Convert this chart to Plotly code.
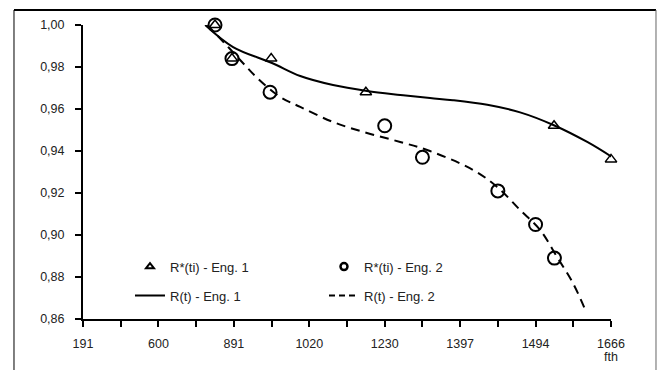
import plotly.graph_objects as go

# ---- data (x is the tick index of the equally spaced category-like axis) ----
tick_index = list(range(15))
tick_labels = ["191", "600", "891", "1020", "1230", "1397", "1494", "1666"]

eng1_x = [3.5, 3.95, 4.99, 7.5, 12.49, 14.0]
eng1_y = [1.000, 0.984, 0.984, 0.968, 0.952, 0.936]

eng2_x = [3.5, 3.95, 4.96, 8.0, 9.0, 11.0, 12.0, 12.5]
eng2_y = [1.000, 0.984, 0.968, 0.952, 0.937, 0.921, 0.905, 0.889]

fit1_x = [3.24, 3.98, 5.01, 5.76, 6.63, 7.53, 8.41, 9.20, 9.81, 10.72, 11.59, 12.47, 13.37, 14.03]
fit1_y = [1.000, 0.9895, 0.9819, 0.9757, 0.9714, 0.9686, 0.9667, 0.9652, 0.9642, 0.9620,
          0.9584, 0.9524, 0.9443, 0.9371]

fit2_x = [3.3, 3.85, 4.24, 4.62, 5.23, 5.76, 6.63, 7.53, 8.41, 9.20, 10.34, 10.98, 11.59,
          12.12, 12.57, 12.99, 13.32]
fit2_y = [1.000, 0.9895, 0.9819, 0.9748, 0.9657, 0.9610, 0.9538, 0.9486, 0.9443, 0.9400,
          0.9310, 0.9229, 0.9119, 0.9024, 0.8895, 0.8771, 0.8643]

y_ticks = [0.86, 0.88, 0.90, 0.92, 0.94, 0.96, 0.98, 1.00]

names = ["R*(ti) - Eng. 1", "R*(ti) - Eng. 2", "R(t) - Eng. 1", "R(t) - Eng. 2"]

FONT = "Liberation Sans, Arial, sans-serif"
ticktext = []
for i in tick_index:
    ticktext.append(tick_labels[i // 2] if i % 2 == 0 else "")

fig = go.Figure()

# curves
fig.add_trace(go.Scatter(x=fit1_x, y=fit1_y, mode="lines", line=dict(color="black", width=2, shape="spline"),
                         showlegend=False, cliponaxis=False))
fig.add_trace(go.Scatter(x=fit2_x, y=fit2_y, mode="lines",
                         line=dict(color="black", width=2, dash="9px,6px", shape="spline"),
                         showlegend=False, cliponaxis=False))
# points
fig.add_trace(go.Scatter(x=eng1_x, y=eng1_y, mode="markers",
                         marker=dict(symbol="triangle-up-open", size=10, color="black", line=dict(width=1.5)),
                         showlegend=False, cliponaxis=False))
fig.add_trace(go.Scatter(x=eng2_x, y=eng2_y, mode="markers",
                         marker=dict(symbol="circle-open", size=13, color="black", line=dict(width=2)),
                         showlegend=False, cliponaxis=False))

# legend entries
fig.add_trace(go.Scatter(x=[None], y=[None], mode="markers", name=names[0], legend="legend",
                         marker=dict(symbol="triangle-up-open", size=7, color="black", line=dict(width=2))))
fig.add_trace(go.Scatter(x=[None], y=[None], mode="markers", name=names[1], legend="legend",
                         marker=dict(symbol="circle-open", size=7, color="black", line=dict(width=2.5))))
fig.add_trace(go.Scatter(x=[None], y=[None], mode="lines", name=names[2], legend="legend2",
                         line=dict(color="black", width=2)))
fig.add_trace(go.Scatter(x=[None], y=[None], mode="lines", name=names[3], legend="legend2",
                         line=dict(color="black", width=2, dash="6px,4px")))

legend_common = dict(orientation="h", xanchor="left", yanchor="middle", x=0.089,
                     bgcolor="rgba(0,0,0,0)", borderwidth=0, entrywidth=149,
                     font=dict(family=FONT, size=13, color="#222"), tracegroupgap=0)

fig.update_layout(
    width=661, height=370,
    margin=dict(l=83, r=50, t=25, b=51),
    paper_bgcolor="white", plot_bgcolor="white",
    separators=",.",
    font=dict(family=FONT, size=12.5, color="#222"),
    legend=dict(legend_common, y=0.178),
    legend2=dict(legend_common, y=0.08),
    xaxis=dict(range=[0, 14], tickmode="array", tickvals=tick_index, ticktext=ticktext,
               showgrid=False, zeroline=False, showline=True, linecolor="black", linewidth=2,
               ticks="outside", ticklen=6, tickwidth=1.5, tickcolor="black", ticklabelstandoff=6,
               tickfont=dict(family=FONT, size=12.5, color="#222")),
    yaxis=dict(range=[0.86, 1.00], tickmode="array", tickvals=y_ticks, tickformat=".2f",
               showgrid=False, zeroline=False, showline=True, linecolor="black", linewidth=2,
               ticks="outside", ticklen=6, tickwidth=1.5, tickcolor="black", ticklabelstandoff=8,
               tickfont=dict(family=FONT, size=12.5, color="#222")),
    annotations=[dict(x=14, y=-0.129, xref="x", yref="paper", text="fth", showarrow=False,
                      font=dict(family=FONT, size=12.5, color="#222"), xanchor="center", yanchor="middle")],
    shapes=[
        dict(type="line", xref="paper", yref="paper", x0=-0.1307, x1=1.0852, y0=1.051, y1=1.051,
             line=dict(color="black", width=2)),
        dict(type="line", xref="paper", yref="paper", x0=-0.1307, x1=-0.1307, y0=1.051, y1=-0.2,
             line=dict(color="black", width=1)),
        dict(type="line", xref="paper", yref="paper", x0=1.0852, x1=1.0852, y0=1.051, y1=-0.2,
             line=dict(color="#666", width=1)),
    ],
)

fig.write_html("out.html", config={"displayModeBar": False},
               post_script="document.body.style.margin='0';")
